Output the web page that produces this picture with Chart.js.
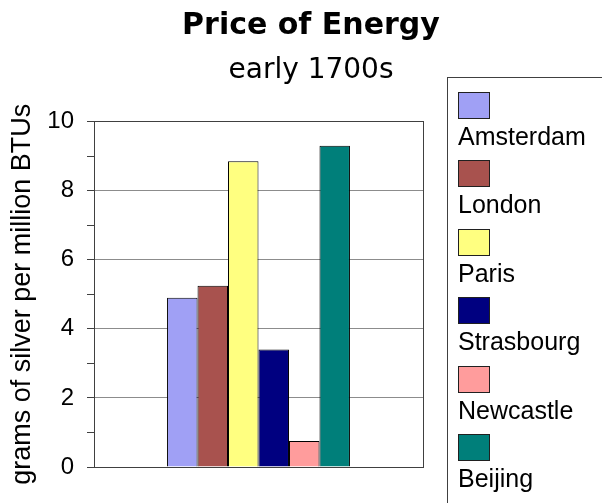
<!DOCTYPE html>
<html>
<head>
<meta charset="utf-8">
<script src="https://cdn.jsdelivr.net/npm/chart.js"></script>
<style>
  body { margin: 0; background: #fff; }
  #wrap { width: 602px; height: 503px; }
</style>
</head>
<body>
<div id="wrap"><canvas id="myChart" width="602" height="503"></canvas></div>
<script>
var cities = ['Amsterdam', 'London', 'Paris', 'Strasbourg', 'Newcastle', 'Beijing'];
var prices = [4.9, 5.25, 8.85, 3.4, 0.75, 9.3];
var colors = ['#A0A0F5', '#A8524E', '#FFFF80', '#000080', '#FF9C9C', '#007F7A'];
var yMax = 10;

var FONT = '"Liberation Sans", Arial, sans-serif';
var WIDE = '"DejaVu Sans", sans-serif';

// legend drawn as a boxed list: swatch on top, name under it
var boxLegend = {
    id: 'boxLegend',
    afterDraw: function(chart) {
        var ctx = chart.ctx;
        var left = chart.chartArea.right + 24;
        ctx.save();
        ctx.strokeStyle = '#404040';
        ctx.lineWidth = 1;
        ctx.strokeRect(left + 0.5, 77.5, 300, 500);
        ctx.font = '25px ' + FONT;
        ctx.textBaseline = 'alphabetic';
        chart.data.datasets.forEach(function(ds, i) {
            var y = Math.round(92 + i * 68.4);
            ctx.fillStyle = ds.backgroundColor;
            ctx.fillRect(left + 11, y, 31, 26);
            ctx.strokeStyle = '#202020';
            ctx.strokeRect(left + 11.5, y + 0.5, 31, 26);
            ctx.fillStyle = '#000';
            ctx.fillText(ds.label, left + 11, y + 53);
        });
        ctx.restore();
    }
};

function makeGraph(names, values) {
    var ctx = document.getElementById('myChart').getContext('2d');
    var myChart = new Chart(ctx, {
        type: 'bar',
        data: {
            labels: [''],
            datasets: names.map(function(n, i) {
                return {
                    label: n,
                    data: [values[i]],
                    backgroundColor: colors[i],
                    borderColor: '#000',
                    borderWidth: 1,
                    barPercentage: 1,
                    categoryPercentage: 0.556
                };
            })
        },
        options: {
            responsive: false,
            animation: false,
            layout: { padding: { left: 20, top: 0, bottom: 28, right: 0 } },
            plugins: {
                legend: { display: false },
                tooltip: { enabled: false },
                title: {
                    display: true,
                    text: 'Price of Energy',
                    color: '#000',
                    font: { family: WIDE, size: 30, weight: 'bold' },
                    padding: { top: 8, bottom: 10 }
                },
                subtitle: {
                    display: true,
                    text: 'early 1700s',
                    color: '#000',
                    font: { family: WIDE, size: 28 },
                    padding: { top: 0, bottom: 34 }
                }
            },
            scales: {
                x: {
                    grid: { display: false },
                    border: { color: '#404040' },
                    ticks: { display: false }
                },
                y: {
                    min: 0,
                    max: yMax,
                    afterFit: function(scale) { scale.width = 74; },
                    ticks: {
                        stepSize: 1,
                        color: '#000',
                        padding: 13,
                        font: { family: FONT, size: 24 },
                        callback: function(v) { return v % 2 === 0 ? v : ''; }
                    },
                    grid: {
                        color: function(c) {
                            if (c.tick.value === yMax) return '#404040';
                            return c.tick.value % 2 === 0 ? '#8c8c8c' : 'rgba(0,0,0,0)';
                        },
                        tickColor: '#404040',
                        tickLength: 7
                    },
                    border: { color: '#404040' },
                    title: {
                        display: true,
                        text: 'grams of silver per million BTUs',
                        color: '#000',
                        font: { family: FONT, size: 27 },
                        padding: { top: -14, bottom: 0 }
                    }
                },
                y2: {
                    position: 'right',
                    afterFit: function(scale) { scale.width = 179; },
                    grid: { display: false },
                    ticks: { display: false },
                    border: { display: true, color: '#404040' }
                }
            }
        },
        plugins: [boxLegend]
    });
}

makeGraph(cities, prices);
</script>
</body>
</html>
